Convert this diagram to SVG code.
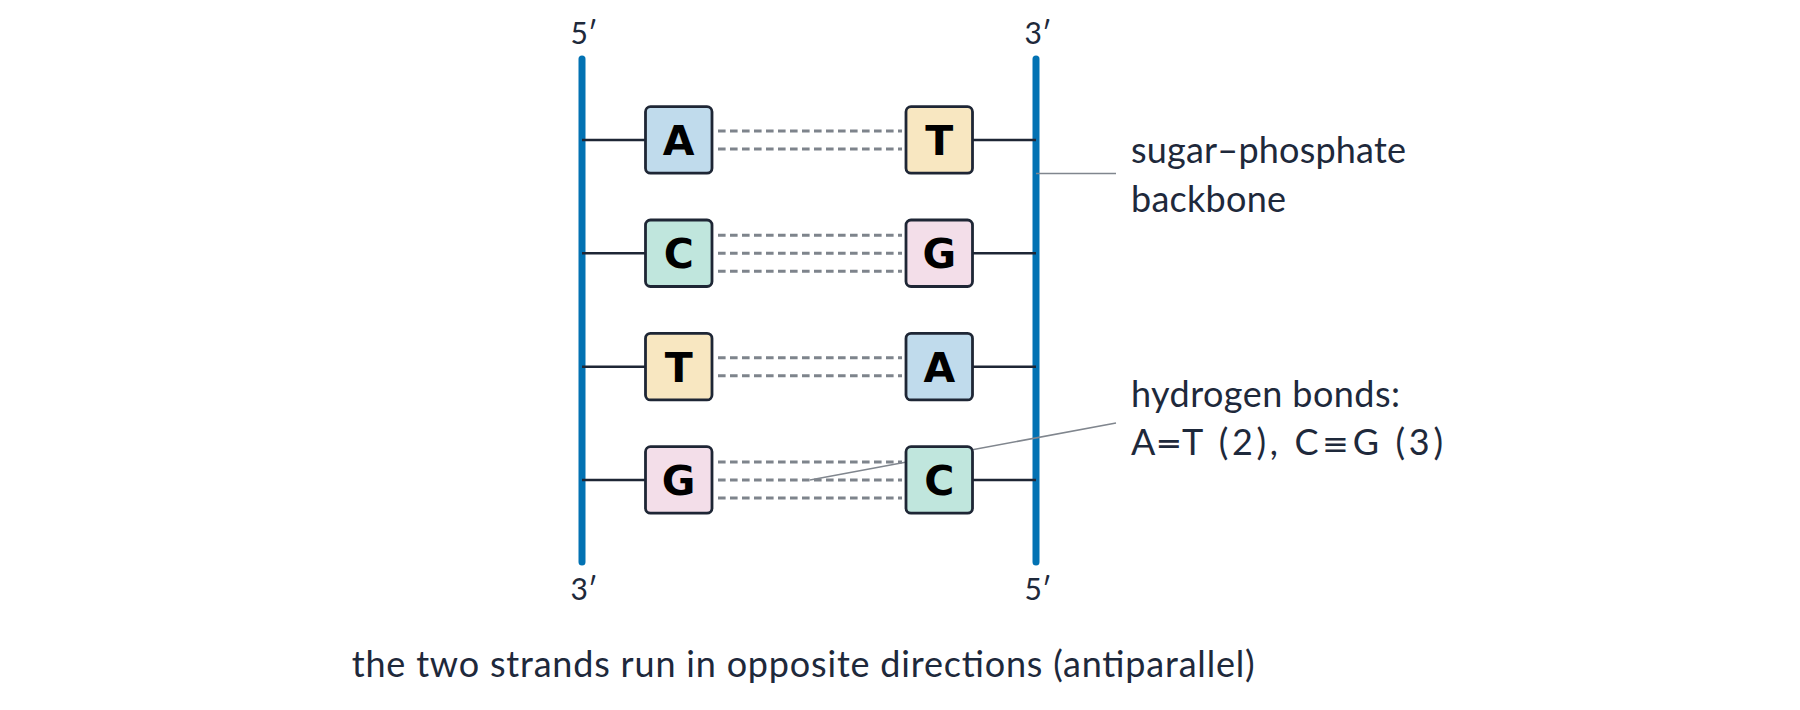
<svg xmlns="http://www.w3.org/2000/svg" width="1800" height="710" viewBox="0 0 1800 710">
<style>
.bb{stroke:#0272b3;stroke-width:7;stroke-linecap:round;fill:none}
.rung{stroke:#1e2635;stroke-width:2.6;fill:none}
.hb{stroke:#7e848c;stroke-width:3;stroke-dasharray:7.6 4.4;fill:none}
.lead{stroke:#80868e;stroke-width:1.7;fill:none}
.box{stroke:#1e2635;stroke-width:2.8}
.base{font-family:"DejaVu Sans","Open Sans",sans-serif;font-weight:bold;font-size:41px;fill:#000;text-anchor:middle}
.lbl{font-family:Lato,"Liberation Sans",sans-serif;font-size:36px;fill:#1e293b}
.sym{font-family:"DejaVu Sans",sans-serif;font-size:32px}
.end{font-family:Lato,"Liberation Sans",sans-serif;font-size:30px;fill:#1e293b;text-anchor:middle}
.fA{fill:#c0dbec}.fT{fill:#f8e7c1}.fC{fill:#c0e6dd}.fG{fill:#f3dee9}
</style>
<g id="connectors">
<line class="bb" x1="582" y1="59" x2="582" y2="562"/>
<line class="bb" x1="1036" y1="59" x2="1036" y2="562"/>
<line class="rung" x1="582" y1="140" x2="645" y2="140"/>
<line class="rung" x1="973" y1="140" x2="1036" y2="140"/>
<line class="rung" x1="582" y1="253.3" x2="645" y2="253.3"/>
<line class="rung" x1="973" y1="253.3" x2="1036" y2="253.3"/>
<line class="rung" x1="582" y1="366.7" x2="645" y2="366.7"/>
<line class="rung" x1="973" y1="366.7" x2="1036" y2="366.7"/>
<line class="rung" x1="582" y1="480" x2="645" y2="480"/>
<line class="rung" x1="973" y1="480" x2="1036" y2="480"/>
<line class="hb" x1="718" y1="131" x2="902" y2="131"/>
<line class="hb" x1="718" y1="149" x2="902" y2="149"/>
<line class="hb" x1="718" y1="235.3" x2="902" y2="235.3"/>
<line class="hb" x1="718" y1="253.3" x2="902" y2="253.3"/>
<line class="hb" x1="718" y1="271.3" x2="902" y2="271.3"/>
<line class="hb" x1="718" y1="357.7" x2="902" y2="357.7"/>
<line class="hb" x1="718" y1="375.7" x2="902" y2="375.7"/>
<line class="hb" x1="718" y1="462" x2="902" y2="462"/>
<line class="hb" x1="718" y1="480" x2="902" y2="480"/>
<line class="hb" x1="718" y1="498" x2="902" y2="498"/>
<line class="lead" x1="1036" y1="173.5" x2="1116" y2="173.5"/>
<line class="lead" x1="810" y1="480" x2="1116" y2="423"/>
</g>
<g id="node-A1"><rect class="box fA" x="645.5" y="106.7" width="66.5" height="66.5" rx="5"/><text class="base" x="678.7" y="155">A</text></g>
<g id="node-T1"><rect class="box fT" x="906" y="106.7" width="66.5" height="66.5" rx="5"/><text class="base" x="939.3" y="155">T</text></g>
<g id="node-C2"><rect class="box fC" x="645.5" y="220" width="66.5" height="66.5" rx="5"/><text class="base" x="678.7" y="268.3">C</text></g>
<g id="node-G2"><rect class="box fG" x="906" y="220" width="66.5" height="66.5" rx="5"/><text class="base" x="939.3" y="268.3">G</text></g>
<g id="node-T3"><rect class="box fT" x="645.5" y="333.4" width="66.5" height="66.5" rx="5"/><text class="base" x="678.7" y="381.7">T</text></g>
<g id="node-A3"><rect class="box fA" x="906" y="333.4" width="66.5" height="66.5" rx="5"/><text class="base" x="939.3" y="381.7">A</text></g>
<g id="node-G4"><rect class="box fG" x="645.5" y="446.7" width="66.5" height="66.5" rx="5"/><text class="base" x="678.7" y="495">G</text></g>
<g id="node-C4"><rect class="box fC" x="906" y="446.7" width="66.5" height="66.5" rx="5"/><text class="base" x="939.3" y="495">C</text></g>
<g id="labels">
<text class="end" x="584" y="44">5′</text>
<text class="end" x="1038" y="44">3′</text>
<text class="end" x="584" y="600">3′</text>
<text class="end" x="1038" y="600">5′</text>
<text class="lbl" x="1131" y="163.3" textLength="275" lengthAdjust="spacing">sugar–phosphate</text>
<text class="lbl" x="1131" y="211.7" textLength="155" lengthAdjust="spacing">backbone</text>
<text class="lbl" x="1131" y="407.3" textLength="269" lengthAdjust="spacing">hydrogen bonds:</text>
<text class="lbl" x="1131" y="455" textLength="312" lengthAdjust="spacing">A<tspan class="sym">═</tspan>T (2), C<tspan class="sym">≡</tspan>G (3)</text>
<text class="lbl" x="351.7" y="676.7" textLength="903" lengthAdjust="spacing">the two strands run in opposite directions (antiparallel)</text>
</g>
</svg>
